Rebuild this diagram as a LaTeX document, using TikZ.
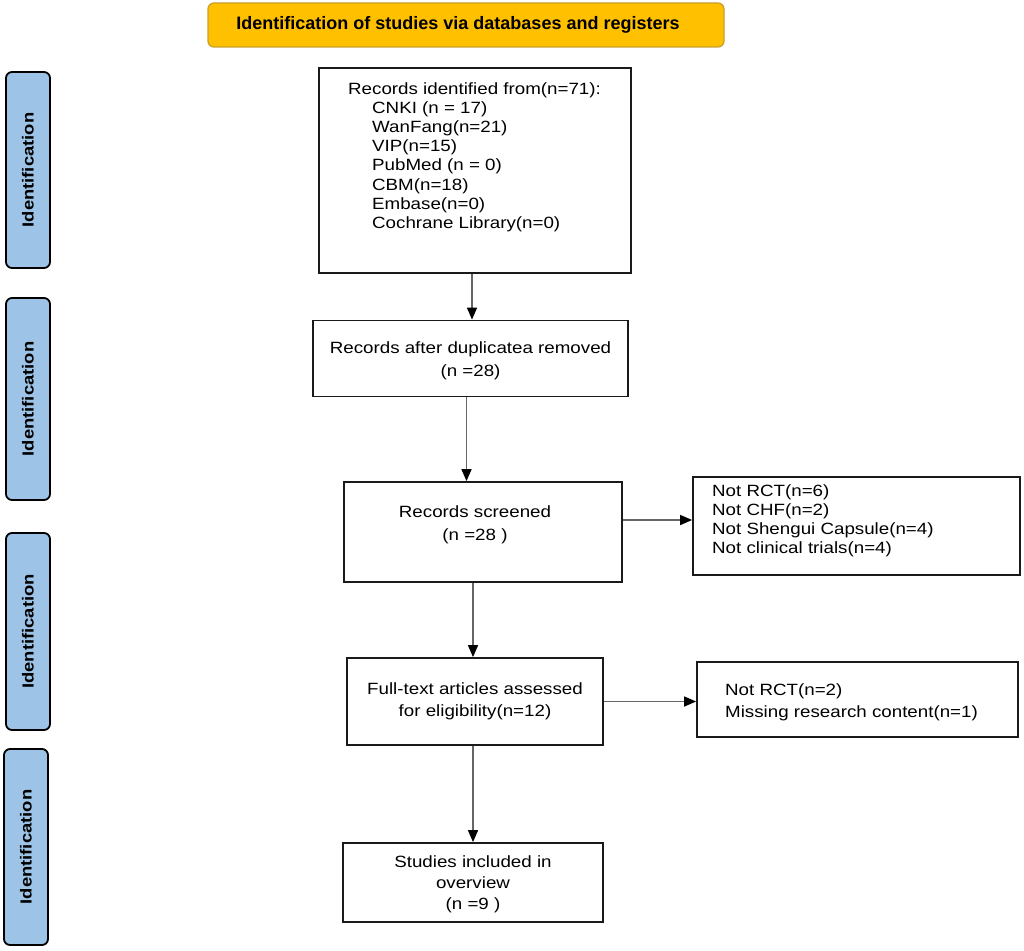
\documentclass[tikz,border=0pt]{standalone}
\usepackage{fontspec}
\setmainfont{Liberation Sans}
\newfontfamily\boxfont[FakeStretch=1.15]{Liberation Sans}
\usetikzlibrary{arrows.meta}
\definecolor{titlefill}{HTML}{FFC000}
\definecolor{titleline}{HTML}{C9A12B}
\definecolor{sideblue}{HTML}{9DC3E6}
\definecolor{boxline}{HTML}{1A1A1A}
\definecolor{arrgray}{HTML}{666666}
\begin{document}
\begin{tikzpicture}[x=1pt,y=-1pt,
 txt/.style={font=\boxfont\fontsize{16.3}{22.5}\selectfont},
 tighttxt/.style={font=\boxfont\fontsize{16.3}{19.2}\selectfont},
 box/.style={draw=boxline,line width=1.8pt,fill=white,inner sep=0pt,align=center,txt},
 boxtext/.style={anchor=north west,inner sep=0pt,align=left},
 side/.style={draw=black,line width=1.8pt,fill=sideblue,rounded corners=6pt,inner sep=0pt,minimum height=44pt,rotate=90,font=\boxfont\bfseries\fontsize{16}{19}\selectfont},
 arr/.style={draw=arrgray,line width=1.5pt,-{Triangle[length=12pt,width=10pt,color=black]}}]
\useasboundingbox (0,0) rectangle (1024,950);

% title
\node[draw=titleline,fill=titlefill,line width=1.3pt,rounded corners=6pt,minimum width=516pt,minimum height=44pt,inner sep=0pt] (title) at (466,25) {};
\node[inner sep=0pt,font=\bfseries\fontsize{18}{20}\selectfont] (titlet) at (458,25) {Identification of studies via databases and registers};

% side labels
\node[side,minimum width=196pt] (side1) at (28,170) {Identification};
\node[side,minimum width=202pt] (side2) at (28,399) {Identification};
\node[side,minimum width=197pt] (side3) at (28,631.5) {Identification};
\node[side,minimum width=196pt] (side4) at (26,847) {Identification};

% main boxes
\node[box,minimum width=312pt,minimum height=205pt] (recA) at (475,170.5) {};
\node[boxtext,tighttxt] (recAt) at (348,82) {Records identified from(n=71):\\
\hspace*{24pt}CNKI (n = 17)\\
\hspace*{24pt}WanFang(n=21)\\
\hspace*{24pt}VIP(n=15)\\
\hspace*{24pt}PubMed (n = 0)\\
\hspace*{24pt}CBM(n=18)\\
\hspace*{24pt}Embase(n=0)\\
\hspace*{24pt}Cochrane Library(n=0)};

\node[box,minimum width=315pt,minimum height=76pt] (recB) at (470.5,358.5) {};
\node[txt,inner sep=0pt,align=center] (recBt) at (470.5,361) {Records after duplicatea removed\\(n =28)};
\node[box,minimum width=278pt,minimum height=100pt] (recC) at (483,532) {};
\node[txt,inner sep=0pt,align=center] (recCt) at (475,525) {Records screened\\(n =28 )};
\node[box,minimum width=256pt,minimum height=87pt] (recD) at (475,701.5) {Full-text articles assessed\\for eligibility(n=12)};
\node[box,minimum width=260pt,minimum height=79pt] (recF) at (473,882.5) {};
\node[txt,inner sep=0pt,align=center,font=\boxfont\fontsize{16.3}{21}\selectfont] (recFt) at (473,884) {Studies included in\\overview\\(n =9 )};

% exclusion boxes
\node[box,minimum width=327pt,minimum height=98pt] (ex1) at (856.5,526) {};
\node[boxtext,tighttxt] (ex1t) at (712,484) {Not RCT(n=6)\\Not CHF(n=2)\\Not Shengui Capsule(n=4)\\Not clinical trials(n=4)};
\node[box,minimum width=321pt,minimum height=75pt] (ex2) at (857.5,699.5) {};
\node[boxtext,txt] (ex2t) at (725,683) {Not RCT(n=2)\\Missing research content(n=1)};

% connectors
\draw[arr] ([xshift=-3pt]recA.south) -- ([xshift=-3pt]recA.south |- recB.north);
\draw[arr] ([xshift=-4pt]recB.south) -- ([xshift=-4pt]recB.south |- recC.north);
\draw[arr] ([yshift=12pt]recC.east) -- ([yshift=12pt]recC.east -| ex1.west);
\draw[arr] ([xshift=-10pt]recC.south) -- ([xshift=-10pt]recC.south |- recD.north);
\draw[arr] (recD.east) -- (recD.east -| ex2.west);
\draw[arr] (recD.south -| recF.north) -- (recF.north);
\end{tikzpicture}
\end{document}
